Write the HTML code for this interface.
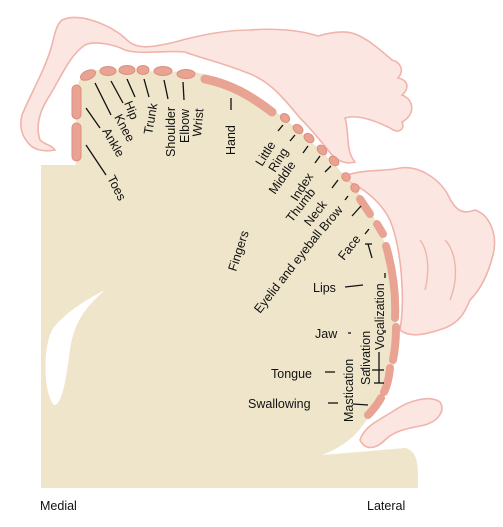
<!DOCTYPE html>
<html><head><meta charset="utf-8"><style>
html,body{margin:0;padding:0;background:#fff;width:503px;height:527px;overflow:hidden}
svg{display:block}
text{font-family:"Liberation Sans",Arial,sans-serif;font-size:12.5px;fill:#111}
.seg{fill:#e9a393;stroke:#dd8d7d;stroke-width:1}
.body{fill:#fce6e2;stroke:#f0b4ab;stroke-width:1.6}
.ln{stroke:#111;stroke-width:1.3}
</style></head><body>
<svg width="503" height="527" viewBox="0 0 503 527">
<g>
<path class="body" d="M62,20 C80,12 110,25 125,38 C135,50 150,48 175,42 C200,35 225,30 250,30 C275,28 300,30 318,36 C332,32 345,30 355,34 C370,40 380,50 392,60 C400,62 405,70 398,78 C408,80 410,88 402,95 C415,100 415,115 402,122 C405,128 400,135 390,128 C370,118 355,115 345,118 C350,135 345,150 355,162 C345,165 335,160 328,150 C320,140 310,128 300,118 C285,100 270,80 245,72 C220,62 200,58 185,52 C165,50 140,55 125,50 C115,45 95,40 85,45 C70,55 62,75 50,95 C40,110 35,125 40,140 C45,145 52,145 55,150 C45,152 35,150 30,145 C25,140 18,130 22,115 C30,95 45,70 52,45 C55,32 57,24 62,20 Z"/>
<path class="body" d="M340,178 C360,168 385,172 400,168 C420,165 440,180 448,195 C455,210 462,215 475,210 C490,215 498,235 493,255 C488,275 480,290 470,300 C465,312 460,322 445,328 C425,335 410,338 400,330 C405,300 402,250 390,220 C380,200 360,185 340,178 Z"/>
<path class="body" d="M360,440 C365,425 380,420 395,410 C410,400 430,395 440,402 C445,410 440,420 425,425 C410,428 395,430 385,440 C375,450 365,450 360,440 Z"/>
<path d="M420,240 C428,250 430,270 425,290 M445,240 C455,250 460,275 450,300" stroke="#f0b4ab" stroke-width="1.4" fill="none"/>
</g>
<path fill="#efe5ca" d="M41,165 L76,165 L76,95 C76,80 84,70 100,70 L195,72 C230,80 255,95 280,115 C305,135 330,158 350,182 C370,205 385,235 392,270 C397,300 398,330 395,360 C391,385 380,405 365,422 C355,438 340,448 322,455 L405,448 C415,450 418,460 418,475 L418,488 L41,488 Z"/>
<path fill="#fff" d="M105,290 C85,300 62,315 52,330 C42,350 44,395 54,405 C62,405 66,380 70,350 C74,320 88,305 105,290 Z"/>
<g>
<rect class="seg" x="72" y="85" width="9" height="34" rx="4.5"/>
<rect class="seg" x="72" y="123" width="9" height="38" rx="4.5"/>
<ellipse class="seg" cx="88" cy="75" rx="8" ry="4.5" transform="rotate(-25 88 75)"/>
<ellipse class="seg" cx="108" cy="71" rx="8" ry="4.5"/>
<ellipse class="seg" cx="127" cy="70" rx="8" ry="4.5"/>
<ellipse class="seg" cx="143" cy="70" rx="6" ry="4.5"/>
<ellipse class="seg" cx="163" cy="71" rx="9" ry="4.5"/>
<ellipse class="seg" cx="186" cy="74" rx="9" ry="4.5"/>
<path d="M205,79 C230,84 250,95 272,112" stroke="#e9a393" stroke-width="9" stroke-linecap="round" fill="none"/>
<ellipse class="seg" cx="285" cy="118" rx="5" ry="4" transform="rotate(40 285 118)"/>
<ellipse class="seg" cx="298" cy="129" rx="5.5" ry="4" transform="rotate(40 298 129)"/>
<ellipse class="seg" cx="309" cy="138" rx="5.5" ry="4" transform="rotate(40 309 138)"/>
<ellipse class="seg" cx="322" cy="150" rx="5.5" ry="4" transform="rotate(45 322 150)"/>
<ellipse class="seg" cx="334" cy="161" rx="5.5" ry="4" transform="rotate(45 334 161)"/>
<ellipse class="seg" cx="346" cy="177" rx="4.5" ry="4" transform="rotate(50 346 177)"/>
<ellipse class="seg" cx="355" cy="188" rx="4.5" ry="4" transform="rotate(50 355 188)"/>
<path d="M360,199 L370,214" stroke="#e9a393" stroke-width="8" stroke-linecap="round"/>
<path d="M377,224 L383,234" stroke="#e9a393" stroke-width="8" stroke-linecap="round"/>
<path d="M386,246 C393,270 396,295 395,318" stroke="#e9a393" stroke-width="8" stroke-linecap="round" fill="none"/>
<path d="M396,327 C396,340 395,350 393,360" stroke="#e9a393" stroke-width="8" stroke-linecap="round" fill="none"/>
<path d="M390,368 C389,378 387,386 384,392" stroke="#e9a393" stroke-width="8" stroke-linecap="round" fill="none"/>
<path d="M381,398 C377,405 373,410 368,415" stroke="#e9a393" stroke-width="8" stroke-linecap="round" fill="none"/>
</g>
<g>
<line class="ln" x1="86" y1="108" x2="100" y2="128"/>
<line class="ln" x1="86" y1="145" x2="106" y2="175"/>
<line class="ln" x1="95" y1="83" x2="111" y2="115"/>
<line class="ln" x1="111" y1="81" x2="123" y2="103"/>
<line class="ln" x1="127" y1="79" x2="135" y2="97"/>
<line class="ln" x1="144" y1="79" x2="149" y2="97"/>
<line class="ln" x1="164" y1="80" x2="168" y2="99"/>
<line class="ln" x1="183" y1="82" x2="184" y2="100"/>
<line class="ln" x1="231" y1="98" x2="231" y2="110"/>
<line class="ln" x1="278" y1="131" x2="283" y2="125"/>
<line class="ln" x1="290" y1="141" x2="295" y2="135"/>
<line class="ln" x1="303" y1="153" x2="308" y2="146"/>
<line class="ln" x1="315" y1="163" x2="320" y2="156"/>
<line class="ln" x1="325" y1="172" x2="331" y2="166"/>
<line class="ln" x1="332" y1="188" x2="338" y2="180"/>
<line class="ln" x1="345" y1="200" x2="348" y2="196"/>
<line class="ln" x1="352" y1="216" x2="361" y2="206"/>
<line class="ln" x1="365" y1="234" x2="369" y2="229"/>
<line class="ln" x1="368" y1="244" x2="372" y2="258"/>
<line class="ln" x1="365" y1="244" x2="372" y2="244"/>
<line class="ln" x1="345" y1="287" x2="363" y2="285"/>
<line class="ln" x1="385" y1="273" x2="385" y2="278"/>
<line class="ln" x1="348" y1="333" x2="351" y2="333"/>
<line class="ln" x1="385" y1="330" x2="385" y2="333"/>
<line class="ln" x1="379" y1="352" x2="379" y2="383"/>
<line class="ln" x1="374" y1="383" x2="384" y2="383"/>
<line class="ln" x1="372" y1="370" x2="384" y2="370"/>
<line class="ln" x1="325" y1="372" x2="335" y2="372"/>
<line class="ln" x1="362" y1="370" x2="364" y2="370"/>
<line class="ln" x1="328" y1="403" x2="338" y2="403"/>
<line class="ln" x1="353" y1="404" x2="368" y2="405"/>
</g>
<g>
<text transform="translate(107,178) rotate(63)">Toes</text>
<text transform="translate(102,131) rotate(60)">Ankle</text>
<text transform="translate(114,117) rotate(62)">Knee</text>
<text transform="translate(124,103) rotate(68)">Hip</text>
<text transform="translate(152,135) rotate(-80)">Trunk</text>
<text transform="translate(175,157) rotate(-90)">Shoulder</text>
<text transform="translate(189,143) rotate(-90)">Elbow</text>
<text transform="translate(201,137) rotate(-85)">Wrist</text>
<text transform="translate(235,155) rotate(-90)">Hand</text>
<text transform="translate(262,167) rotate(-58)">Little</text>
<text transform="translate(275,173) rotate(-58)">Ring</text>
<text transform="translate(275,195) rotate(-55)">Middle</text>
<text transform="translate(297,202) rotate(-57)">Index</text>
<text transform="translate(292,223) rotate(-52)">Thumb</text>
<text transform="translate(310,227) rotate(-52)">Neck</text>
<text transform="translate(325,232) rotate(-50)">Brow</text>
<text transform="translate(236,272) rotate(-72)">Fingers</text>
<text transform="translate(260,314) rotate(-52)">Eyelid and eyeball</text>
<text transform="translate(344,261) rotate(-52)">Face</text>
<text x="313" y="292">Lips</text>
<text x="315" y="338">Jaw</text>
<text x="271" y="378">Tongue</text>
<text x="248" y="408">Swallowing</text>
<text transform="translate(384,350) rotate(-90)">Vocalization</text>
<text transform="translate(370,385) rotate(-90)">Salivation</text>
<text transform="translate(353,422) rotate(-90)">Mastication</text>
<text x="40" y="510">Medial</text>
<text x="367" y="510">Lateral</text>
</g>
</svg>
</body></html>
